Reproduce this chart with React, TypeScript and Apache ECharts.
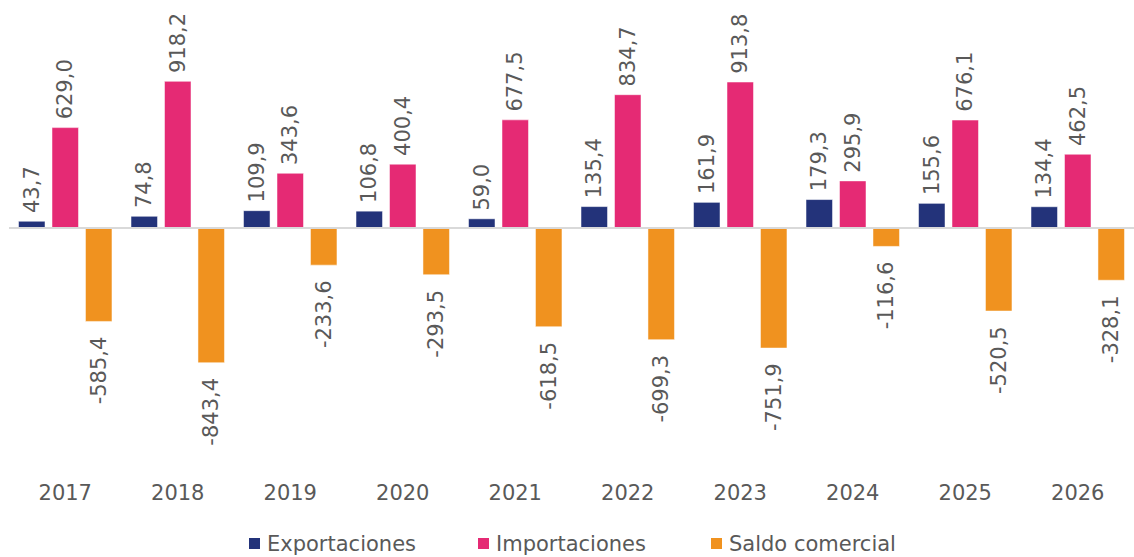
import React, { useEffect, useRef } from "react";
import * as echarts from "echarts";

const years = ["2017", "2018", "2019", "2020", "2021", "2022", "2023", "2024", "2025", "2026"];
const exportaciones = [43.7, 74.8, 109.9, 106.8, 59.0, 135.4, 161.9, 179.3, 155.6, 134.4];
const importaciones = [629.0, 918.2, 343.6, 400.4, 677.5, 834.7, 913.8, 295.9, 676.1, 462.5];
const saldo = [-585.4, -843.4, -233.6, -293.5, -618.5, -699.3, -751.9, -116.6, -520.5, -328.1];
const seriesNames = ["Exportaciones", "Importaciones", "Saldo comercial"];

const FONT = "'DejaVu Sans', 'Open Sans', sans-serif";
const TEXT = "#595959";

const fmt = (v: number) => v.toFixed(1).replace(".", ",");

export default function App() {
  const ref = useRef<HTMLDivElement>(null);
  useEffect(() => {
    if (!ref.current) return;
    const chart = echarts.init(ref.current, undefined, { renderer: "svg" });
    const posLabel = {
      show: true,
      position: "top",
      rotate: 90,
      align: "left",
      verticalAlign: "middle",
      distance: 8,
      color: TEXT,
      fontSize: 21,
      fontFamily: FONT,
      formatter: (p: any) => fmt(p.value),
    };
    const negLabel = {
      ...posLabel,
      position: "bottom",
      align: "right",
      distance: 15,
    };
    const legendLefts = [247, 476, 709];
    chart.setOption({
      animation: false,
      grid: { left: 9, right: -13, top: 68, bottom: 89, containLabel: false },
      legend: seriesNames.map((n, i) => ({
        top: 533,
        left: legendLefts[i],
        padding: 0,
        itemWidth: 13,
        itemHeight: 13,
        icon: "rect",
        textStyle: { color: TEXT, fontSize: 21, fontFamily: FONT, padding: [0, 0, 0, 1] },
        data: [n],
      })),
      xAxis: {
        type: "category",
        data: years,
        axisLine: { show: false, onZero: false },
        axisTick: { show: false },
        axisLabel: { color: TEXT, fontSize: 21, fontFamily: FONT, margin: 14 },
      },
      yAxis: {
        type: "value",
        min: -1500,
        max: 1000,
        show: false,
        splitLine: { show: false },
      },
      series: [
        {
          name: seriesNames[0],
          type: "bar",
          data: exportaciones,
          barWidth: 27,
          barGap: "24%",
          itemStyle: { color: "#23337A", borderColor: "#ffffff", borderWidth: 0.5 },
          label: posLabel,
          markLine: {
            silent: true,
            symbol: "none",
            label: { show: false },
            lineStyle: { color: "#D9D9D9", width: 2, type: "solid" },
            data: [{ yAxis: 0 }],
          },
        },
        {
          name: seriesNames[1],
          type: "bar",
          data: importaciones,
          barWidth: 27,
          barGap: "24%",
          itemStyle: { color: "#E52A74", borderColor: "#ffffff", borderWidth: 0.5 },
          label: posLabel,
        },
        {
          name: seriesNames[2],
          type: "bar",
          data: saldo,
          barWidth: 27,
          barGap: "24%",
          itemStyle: { color: "#F0921F", borderColor: "#ffffff", borderWidth: 0.5 },
          label: negLabel,
        },
      ],
    });
    return () => chart.dispose();
  }, []);
  return (
    <div
      ref={ref}
      style={{ position: "absolute", left: 0, top: 0, width: 1134, height: 557 }}
    />
  );
}
